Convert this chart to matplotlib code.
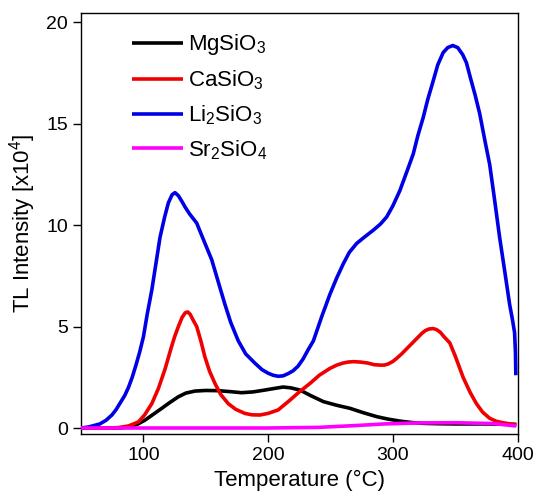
import numpy as np
import matplotlib
matplotlib.use("Agg")
import matplotlib.pyplot as plt

plt.rcParams['font.family'] = ['Liberation Sans', 'DejaVu Sans']
plt.rcParams['mathtext.default'] = 'regular'

# temperature (C) / intensity (x10^4)
li_x = [50, 56, 65, 70, 74.7, 78, 82, 85, 88, 91, 94, 97, 100, 103, 106.7, 110, 113.3, 117,
        120, 123, 125.3, 128, 131, 133.3, 137, 142.7, 148, 154.7, 160, 165.3, 170, 176, 182,
        189.3, 195, 200, 204, 208, 212, 216, 220, 224, 228, 232, 236.3, 243, 249.6, 255,
        260.3, 265, 271, 277, 284.3, 290, 295, 300, 305.6, 311, 316.3, 320, 324.3, 328,
        332.3, 336, 340.3, 344, 348, 352, 356, 359, 362, 366, 369.6, 374, 377.6, 381,
        385.6, 390, 393.6, 396, 397.6, 398.3, 398.6]
li_y = [0.0, 0.05, 0.2, 0.38, 0.64, 0.9, 1.3, 1.6, 2.0, 2.5, 3.1, 3.75, 4.5, 5.6, 6.8, 8.1,
        9.4, 10.4, 11.1, 11.5, 11.6, 11.45, 11.15, 10.9, 10.55, 10.1, 9.3, 8.3, 7.2, 6.1,
        5.2, 4.3, 3.65, 3.2, 2.88, 2.7, 2.6, 2.55, 2.57, 2.68, 2.82, 3.05, 3.4, 3.85, 4.3,
        5.5, 6.6, 7.4, 8.1, 8.65, 9.1, 9.4, 9.75, 10.05, 10.4, 10.95, 11.7, 12.6, 13.5,
        14.4, 15.3, 16.2, 17.1, 17.9, 18.5, 18.75, 18.85, 18.75, 18.4, 18.0, 17.3, 16.4,
        15.5, 14.1, 13.0, 11.5, 9.4, 7.6, 6.1, 5.3, 4.7, 3.7, 2.6]

ca_x = [50, 70, 80, 88, 96, 101, 106.7, 112, 117.3, 122, 125, 128, 131, 133.5, 135.5, 137.5,
        140, 142.7, 146, 149.3, 153, 157.3, 162, 168, 174, 181.3, 187, 193.3, 200, 208, 217.6,
        225, 233.6, 241, 249.6, 255, 260, 264, 268.3, 274, 280, 285, 289.6, 293, 296, 300,
        303, 307, 311, 315, 319, 323, 326, 329, 332.3, 335, 338, 341, 345.6, 350, 356.3,
        362, 367, 372, 377.6, 383, 388.3, 394, 399]
ca_y = [0.0, 0.0, 0.02, 0.1, 0.3, 0.65, 1.2, 1.95, 2.9, 3.9, 4.5, 5.0, 5.45, 5.68, 5.72,
        5.6, 5.3, 5.0, 4.3, 3.5, 2.8, 2.2, 1.65, 1.2, 0.92, 0.72, 0.65, 0.64, 0.72, 0.89,
        1.38, 1.78, 2.2, 2.6, 2.94, 3.1, 3.2, 3.25, 3.27, 3.25, 3.2, 3.12, 3.1, 3.1, 3.15,
        3.28, 3.43, 3.65, 3.9, 4.15, 4.4, 4.65, 4.8, 4.88, 4.9, 4.85, 4.72, 4.5, 4.2, 3.55,
        2.5, 1.75, 1.2, 0.78, 0.48, 0.33, 0.26, 0.2, 0.15]

mg_x = [50, 80, 88, 95, 101.3, 108, 114.7, 121, 128, 134, 141.3, 150, 160, 170, 178.7, 188,
        197.3, 205, 212, 218, 225.6, 234, 244.3, 255, 265.6, 276, 287, 296, 305.6, 315,
        324.3, 337, 350, 375, 399]
mg_y = [0.0, 0.0, 0.05, 0.18, 0.39, 0.68, 0.97, 1.25, 1.54, 1.72, 1.82, 1.85, 1.84, 1.79,
        1.74, 1.78, 1.87, 1.95, 2.02, 1.98, 1.87, 1.6, 1.3, 1.12, 0.97, 0.76, 0.56, 0.44,
        0.34, 0.27, 0.23, 0.21, 0.2, 0.2, 0.18]

sr_x = [50, 150, 200, 240, 270, 293, 320, 350, 380, 399]
sr_y = [0.0, 0.0, 0.0, 0.03, 0.12, 0.2, 0.25, 0.26, 0.22, 0.1]

fig, ax = plt.subplots(figsize=(5.37, 5.03), dpi=100)
fig.subplots_adjust(left=0.151, right=0.965, bottom=0.137, top=0.974)

style = dict(lw=2.6, solid_joinstyle='round', solid_capstyle='butt')
ax.plot(mg_x, mg_y, color='black', label='MgSiO$_3$', zorder=3, **style)
ax.plot(ca_x, ca_y, color='#f00000', label='CaSiO$_3$', zorder=3, **style)
ax.plot(li_x, li_y, color='#0000e6', label='Li$_2$SiO$_3$', zorder=3, **style)
ax.plot(sr_x, sr_y, color='#ff00ff', label='Sr$_2$SiO$_4$', zorder=4, **style)

ax.set_xlim(50, 400.5)
ax.set_ylim(-0.3, 20.45)
ax.set_xticks([100, 200, 300, 400])
ax.set_yticks([0, 5, 10, 15, 20])
ax.tick_params(direction='out', length=6, width=1, labelsize=14, top=False, right=False)
for s in ax.spines.values():
    s.set_linewidth(1)

ax.set_xlabel('Temperature (°C)', fontsize=16, labelpad=4)
ax.set_ylabel('TL Intensity [x10$^4$]', fontsize=16, labelpad=6)

ax.legend(loc='upper left', bbox_to_anchor=(0.095, 0.975), frameon=False, fontsize=16,
          handlelength=2.3, handletextpad=0.25, labelspacing=0.5, borderaxespad=0)

fig.savefig('out.png', dpi=100)
